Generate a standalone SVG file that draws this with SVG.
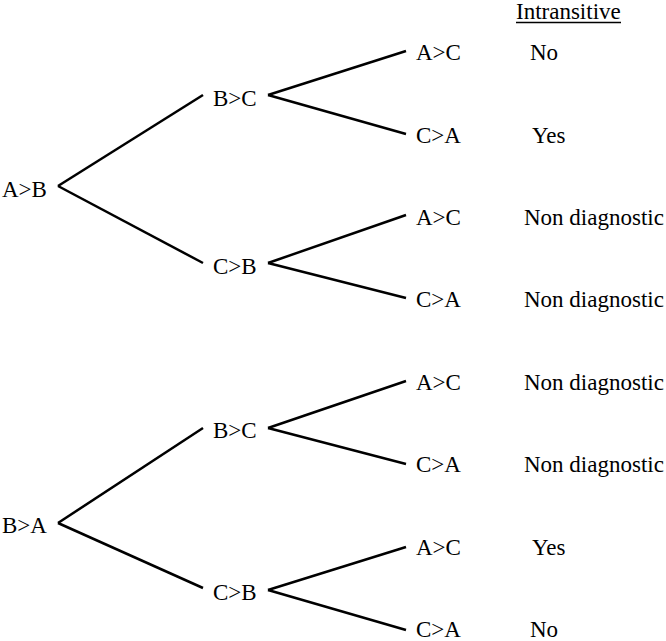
<svg xmlns="http://www.w3.org/2000/svg" width="666" height="641" viewBox="0 0 666 641">
<style>
text{font-family:"Liberation Serif","Times New Roman",serif;font-size:23px;fill:#000}
.c line{stroke:#000;stroke-width:2.5;stroke-linecap:butt}
</style>
<rect width="666" height="641" fill="#fff"/>
<g class="c" id="connectors">
<line x1="58" y1="186" x2="203" y2="95"/>
<line x1="58" y1="186" x2="203" y2="263"/>
<line x1="268" y1="95" x2="406" y2="51"/>
<line x1="268" y1="95" x2="406" y2="134"/>
<line x1="268" y1="263" x2="406" y2="215"/>
<line x1="268" y1="263" x2="406" y2="298"/>
<line x1="58" y1="523" x2="203" y2="428"/>
<line x1="58" y1="523" x2="203" y2="588"/>
<line x1="268" y1="428" x2="406" y2="381"/>
<line x1="268" y1="428" x2="406" y2="464"/>
<line x1="268" y1="590" x2="406" y2="547"/>
<line x1="268" y1="590" x2="406" y2="630"/>
</g>
<g id="header"><text x="516" y="19">Intransitive</text><line x1="516" y1="22.5" x2="621" y2="22.5" stroke="#000" stroke-width="1.3"/></g>
<g id="n-AB"><text x="2" y="197">A&gt;B</text></g>
<g id="n-BA"><text x="2" y="533">B&gt;A</text></g>
<g id="n-AB-BC"><text x="213" y="106">B&gt;C</text></g>
<g id="n-AB-CB"><text x="213" y="274">C&gt;B</text></g>
<g id="n-BA-BC"><text x="213" y="438">B&gt;C</text></g>
<g id="n-BA-CB"><text x="213" y="600">C&gt;B</text></g>
<g id="n1"><text x="416" y="60">A&gt;C</text><text x="530" y="60">No</text></g>
<g id="n2"><text x="416" y="143">C&gt;A</text><text x="532" y="143">Yes</text></g>
<g id="n3"><text x="416" y="225">A&gt;C</text><text x="524" y="225">Non diagnostic</text></g>
<g id="n4"><text x="416" y="307">C&gt;A</text><text x="524" y="307">Non diagnostic</text></g>
<g id="n5"><text x="416" y="390">A&gt;C</text><text x="524" y="390">Non diagnostic</text></g>
<g id="n6"><text x="416" y="472">C&gt;A</text><text x="524" y="472">Non diagnostic</text></g>
<g id="n7"><text x="416" y="555">A&gt;C</text><text x="532" y="555">Yes</text></g>
<g id="n8"><text x="416" y="637">C&gt;A</text><text x="530" y="637">No</text></g>
</svg>
